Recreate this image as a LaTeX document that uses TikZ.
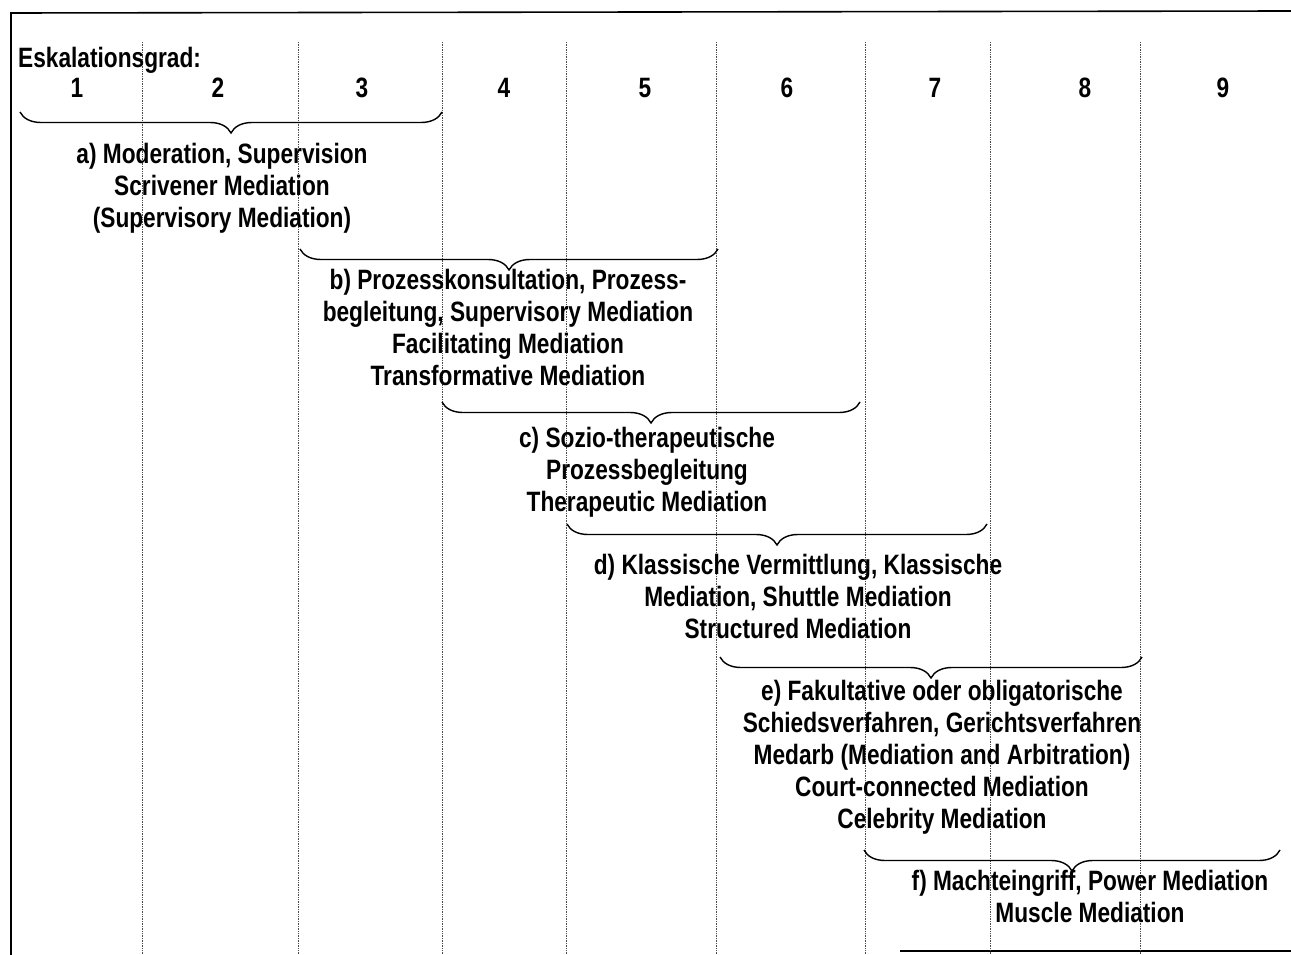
\documentclass[tikz,border=0pt]{standalone}
\usepackage{fontspec}
\setmainfont{Liberation Sans}[FakeStretch=0.81]
\usetikzlibrary{decorations.pathreplacing}

\begin{document}
\begin{tikzpicture}[x=1pt,y=-1pt,
    grid/.style={densely dotted, line width=0.7pt, black!70},
    frame/.style={line width=1.6pt},
    klammer/.style={decorate, decoration={brace, mirror, amplitude=21pt}, line width=1.4pt},
    stufe/.style={align=center, inner sep=0pt, anchor=north,
      font=\fontsize{28}{32}\selectfont\bfseries}]
  \useasboundingbox (0,0) rectangle (1291,955);
  \draw[frame] (11,955) -- (11,13) -- (1291,11);
  \draw[frame] (900,951) -- (1291,951);
  \foreach \x in {142,298,442,566,716,865,990,1140}
    \draw[grid] (\x,42) -- (\x,955);
  \node[stufe, anchor=base west] (titel) at (18,68) {Eskalationsgrad:};
  \foreach \x/\n in {77/1,218/2,362/3,504/4,645/5,787/6,935/7,1085/8,1223/9}
    \node[stufe, anchor=center] (grad\n) at (\x,88) {\n};
  % Klammern
  \coordinate (a1) at (20,112);  \coordinate (a2) at (442,112);
  \coordinate (b1) at (300,249); \coordinate (b2) at (718,249);
  \coordinate (c1) at (442,402); \coordinate (c2) at (860,402);
  \coordinate (d1) at (567,524); \coordinate (d2) at (987,524);
  \coordinate (e1) at (720,657); \coordinate (e2) at (1142,657);
  \coordinate (f1) at (864,850); \coordinate (f2) at (1280,850);
  \foreach \k in {a,b,c,d,e,f}
    \draw[klammer] (\k1) -- (\k2);
  % Verfahren
  \node[stufe] (ta) at (222,143) {a) Moderation, Supervision\\Scrivener Mediation\\(Supervisory Mediation)};
  \node[stufe] (tb) at (508,269) {b) Prozesskonsultation, Prozess-\\begleitung, Supervisory Mediation\\Facilitating Mediation\\Transformative Mediation};
  \node[stufe] (tc) at (647,427) {c) Sozio-therapeutische\\Prozessbegleitung\\Therapeutic Mediation};
  \node[stufe] (td) at (798,554) {d) Klassische Vermittlung, Klassische\\Mediation, Shuttle Mediation\\Structured Mediation};
  \node[stufe] (te) at (942,680) {e) Fakultative oder obligatorische\\Schiedsverfahren, Gerichtsverfahren\\Medarb (Mediation and Arbitration)\\Court-connected Mediation\\Celebrity Mediation};
  \node[stufe] (tf) at (1090,870) {f) Machteingriff, Power Mediation\\Muscle Mediation};
\end{tikzpicture}
\end{document}
